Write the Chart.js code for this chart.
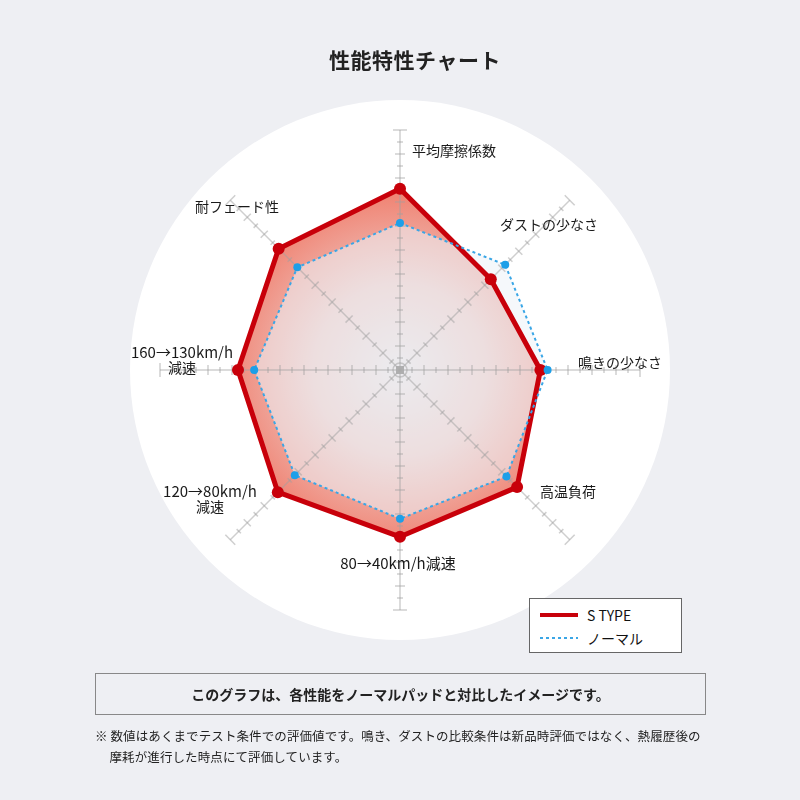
<!DOCTYPE html>
<html lang="ja">
<head>
<meta charset="utf-8">
<script src="https://cdn.jsdelivr.net/npm/chart.js@4.4.1/dist/chart.umd.min.js"></script>
<style>
  html, body { margin: 0; padding: 0; }
  body {
    width: 800px; height: 800px; position: relative; overflow: hidden;
    background: #eeeff3;
    font-family: "Noto Sans CJK JP", "Noto Sans", sans-serif;
    color: #222;
  }
  .disc {
    position: absolute; left: 130px; top: 100px; width: 540px; height: 540px;
    border-radius: 50%; background: #fff;
  }
  #radar { position: absolute; left: 0; top: 0; }
  .title {
    position: absolute; left: 0; width: 830px; top: 44px; text-align: center;
    font-size: 21px; font-weight: 700; letter-spacing: 0.5px;
  }
  .legend {
    position: absolute; left: 529px; top: 598px; width: 153px; height: 55px;
    box-sizing: border-box; border: 1px solid #666; background: #fff;
    font-size: 14px; color: #111;
  }
  .legend .row { position: absolute; left: 10px; height: 18px; display: flex; align-items: center; }
  .legend .swatch { width: 38px; margin-right: 9px; }
  .note {
    position: absolute; left: 95px; top: 673px; width: 611px; height: 42px;
    box-sizing: border-box; border: 1px solid #888;
    font-size: 14px; font-weight: 700; text-align: center; line-height: 40px;
  }
  .foot {
    position: absolute; left: 95px; top: 725px; width: 640px;
    font-size: 12.5px; line-height: 21px; color: #222; letter-spacing: 0.1px;
  }
</style>
</head>
<body>
<div class="disc"></div>
<canvas id="radar" width="800" height="800"></canvas>
<div class="title">性能特性チャート</div>
<div class="legend">
  <div class="row" style="top:7px"><div class="swatch" style="height:4px;background:#c8000a"></div>S TYPE</div>
  <div class="row" style="top:30px"><div class="swatch" style="height:1.5px;background:repeating-linear-gradient(to right,#3aa6e6 0 3px,transparent 3px 6px)"></div>ノーマル</div>
</div>
<div class="note">このグラフは、各性能をノーマルパッドと対比したイメージです。</div>
<div class="foot">※ 数値はあくまでテスト条件での評価値です。鳴き、ダストの比較条件は新品時評価ではなく、熱履歴後の<br>&nbsp;&nbsp;&nbsp;&nbsp;&nbsp;摩耗が進行した時点にて評価しています。</div>

<script>
// axes, clockwise from the top
const categories = [
    '平均摩擦係数',
    'ダストの少なさ',
    '鳴きの少なさ',
    '高温負荷',
    '80→40km/h減速',
    ['120→80km/h', '減速'],
    ['160→130km/h', '減速'],
    '耐フェード性'
];
const sTypeValues = [15.1, 10.7, 11.7, 13.8, 13.9, 14.4, 13.5, 14.3];
const normalValues = [12.25, 12.4, 12.3, 12.55, 12.4, 12.4, 12.15, 12.1];
const scaleMax = 20;

// where each axis label sits: anchor point and alignment
const labelLayout = [
    { x: 412, y: 151, align: 'left' },
    { x: 500, y: 225, align: 'left' },
    { x: 578, y: 363, align: 'left' },
    { x: 540, y: 492, align: 'left' },
    { x: 398, y: 563, align: 'center' },
    { x: 210, y: 491, align: 'center' },
    { x: 182, y: 352, align: 'center' },
    { x: 195, y: 207, align: 'left' }
];

function sTypeFill(context) {
    const scale = context.chart.scales.r;
    if (!scale || !scale.drawingArea) return 'rgba(240,150,135,0.6)';
    const g = context.chart.ctx.createRadialGradient(
        scale.xCenter, scale.yCenter, 0, scale.xCenter, scale.yCenter, scale.drawingArea * 0.72);
    g.addColorStop(0, '#e9e3e4');
    g.addColorStop(0.5, '#eec6c1');
    g.addColorStop(1, '#f08676');
    return g;
}

// spokes with tick marks, drawn over the fills and under the lines
const spokeGrid = {
    id: 'spokeGrid',
    beforeDatasetsDraw(chart) {
        const scale = chart.scales.r;
        const ctx = chart.ctx;
        const n = categories.length;
        ctx.save();
        ctx.strokeStyle = 'rgba(160,160,160,0.5)';
        ctx.lineWidth = 1.5;
        for (let i = 0; i < n; i++) {
            const end = scale.getPointPosition(i, scale.getDistanceFromCenterForValue(scaleMax));
            const ang = scale.getIndexAngle(i) - Math.PI / 2;
            const px = -Math.sin(ang), py = Math.cos(ang);
            ctx.beginPath();
            ctx.moveTo(scale.xCenter, scale.yCenter);
            ctx.lineTo(end.x, end.y);
            ctx.stroke();
            for (let v = 1; v <= scaleMax; v++) {
                const p = scale.getPointPosition(i, scale.getDistanceFromCenterForValue(v));
                const half = v === scaleMax ? 7 : (v % 2 === 0 ? 5 : 3);
                ctx.beginPath();
                ctx.moveTo(p.x - px * half, p.y - py * half);
                ctx.lineTo(p.x + px * half, p.y + py * half);
                ctx.stroke();
            }
        }
        ctx.beginPath();
        ctx.arc(scale.xCenter, scale.yCenter, 7, 0, Math.PI * 2);
        ctx.stroke();
        ctx.fillStyle = 'rgba(170,170,170,0.9)';
        ctx.fillRect(scale.xCenter - 4, scale.yCenter - 4, 8, 8);
        ctx.restore();
    },
    afterDraw(chart) {
        const ctx = chart.ctx;
        ctx.save();
        ctx.fillStyle = '#1a1a1a';
        ctx.textBaseline = 'middle';
        categories.forEach((label, i) => {
            const pos = labelLayout[i];
            const lines = Array.isArray(label) ? label : [label];
            ctx.textAlign = pos.align;
            lines.forEach((line, j) => {
                // latin runs look a touch larger in the original
                ctx.font = /km/.test(line) ? '15px "Noto Sans CJK JP"' : '14px "Noto Sans CJK JP"';
                ctx.fillText(line, pos.x, pos.y + j * 16);
            });
        });
        ctx.restore();
    }
};

new Chart(document.getElementById('radar'), {
    type: 'radar',
    data: {
        labels: categories,
        datasets: [
            {
                label: 'ノーマル',
                data: normalValues,
                borderColor: '#3aa6e6',
                borderWidth: 2,
                borderDash: [3, 3],
                backgroundColor: 'rgba(236,242,247,0.55)',
                fill: true,
                pointRadius: 4,
                pointBorderWidth: 0,
                pointBackgroundColor: '#1d9fe8'
            },
            {
                label: 'S TYPE',
                data: sTypeValues,
                borderColor: '#c8000a',
                borderWidth: 5,
                borderJoinStyle: 'round',
                backgroundColor: sTypeFill,
                fill: true,
                pointRadius: 6,
                pointBorderWidth: 0,
                pointBackgroundColor: '#c8000a'
            }
        ]
    },
    options: {
        responsive: false,
        animation: false,
        layout: { padding: { left: 160, right: 160, top: 130, bottom: 190 } },
        elements: { line: { tension: 0 } },
        scales: {
            r: {
                min: 0,
                max: scaleMax,
                grid: { display: false },
                angleLines: { display: false },
                ticks: { display: false },
                pointLabels: { display: false }
            }
        },
        plugins: {
            legend: { display: false },
            tooltip: { enabled: false },
            filler: { drawTime: 'beforeDatasetsDraw' }
        }
    },
    plugins: [spokeGrid]
});
</script>
</body>
</html>
